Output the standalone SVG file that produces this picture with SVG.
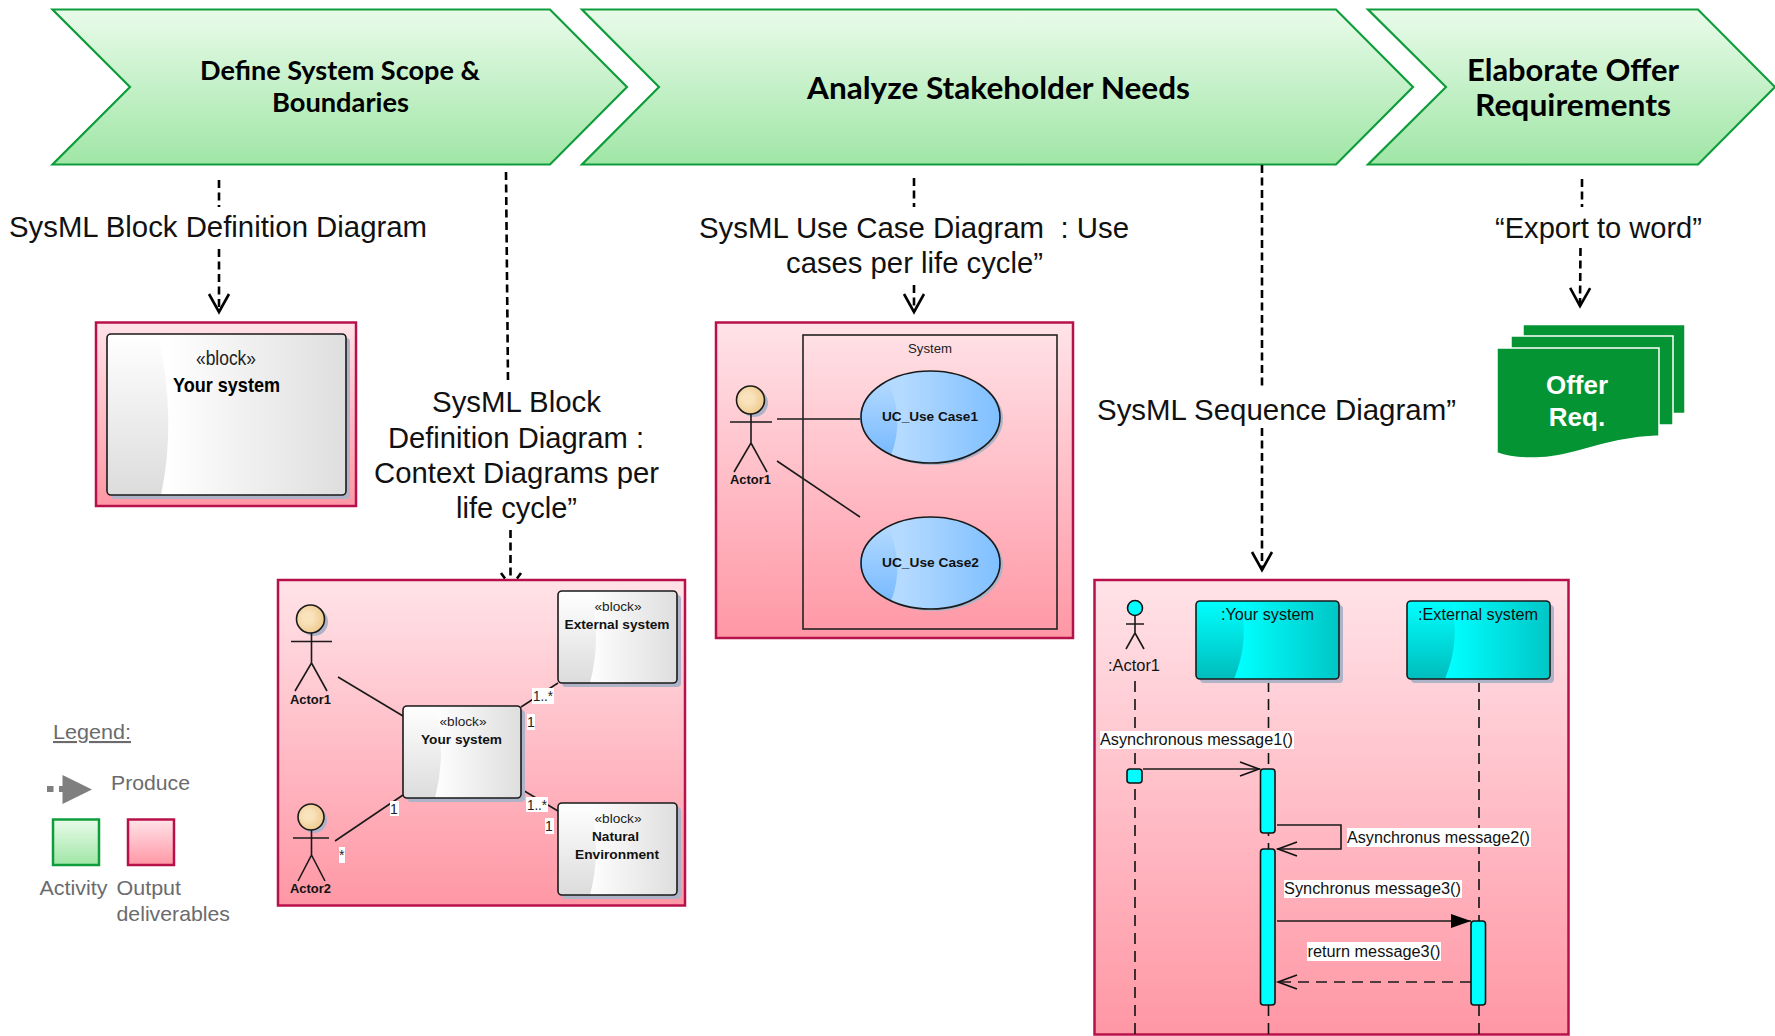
<svg xmlns="http://www.w3.org/2000/svg" width="1775" height="1036" viewBox="0 0 1775 1036">
<style>
text{font-family:"Liberation Sans",Arial,sans-serif;fill:#000}
.chev{fill:url(#gGreen);stroke:#0f9d3c;stroke-width:2.2}
.ct{font-family:Lato,"Open Sans",sans-serif;font-weight:700;fill:#000}
.panel{fill:url(#gPink);stroke:#b8104a;stroke-width:2.5}
.cap{font-size:30px;fill:#111}
.shadow{fill:#aeb3c8}
.bR{fill:url(#gGrayH)}.bL{fill:url(#gGrayV)}
.cR{fill:url(#gCyanH)}.cL{fill:url(#gCyanV)}
.eR{fill:url(#gBlueH)}.eL{fill:url(#gBlueV)}
.out{fill:none;stroke:#1a1a1a;stroke-width:1.6}
.st{font-size:13.5px;fill:#222}
.bt{font-size:13.5px;font-weight:700;fill:#111}
.sq{font-size:16px;fill:#111}
.lab{fill:#fff}
.num{font-size:14px;fill:#222}
.ln{stroke:#1a1a1a;stroke-width:1.6;fill:none}
.fig{stroke:#1a1a1a;stroke-width:1.6;fill:none}
.head{fill:url(#gHead);stroke:#1a1a1a;stroke-width:1.6}
.dash{stroke:#000;stroke-width:2.6;stroke-dasharray:8 4.5;fill:none}
.life{stroke:#111;stroke-width:1.6;stroke-dasharray:11 7;fill:none}
.act{fill:#00ffff;stroke:#111;stroke-width:1.6}
.leg{font-size:21px;fill:#6b6b6e}
.doc{fill:#059433;stroke:#fff;stroke-width:1.5}
</style>
<defs>
<linearGradient id="gGreen" x1="0" y1="0" x2="0" y2="1"><stop offset="0" stop-color="#e9fbea"/><stop offset="1" stop-color="#a0e6a6"/></linearGradient>
<linearGradient id="gPink" x1="0" y1="0" x2="0" y2="1"><stop offset="0" stop-color="#ffe3e8"/><stop offset="1" stop-color="#ff97a5"/></linearGradient>
<linearGradient id="gGrayH" x1="0" y1="0" x2="1" y2="0"><stop offset="0.25" stop-color="#fff"/><stop offset="1" stop-color="#dedede"/></linearGradient>
<linearGradient id="gGrayV" x1="0" y1="0" x2="0" y2="1"><stop offset="0" stop-color="#fff"/><stop offset="1" stop-color="#dcdcdc"/></linearGradient>
<linearGradient id="gCyanH" x1="0" y1="0" x2="1" y2="0"><stop offset="0.3" stop-color="#00ffff"/><stop offset="1" stop-color="#00c6c6"/></linearGradient>
<linearGradient id="gCyanV" x1="0" y1="0" x2="0" y2="1"><stop offset="0" stop-color="#00ffff"/><stop offset="1" stop-color="#00bcbc"/></linearGradient>
<linearGradient id="gBlueH" x1="0" y1="0" x2="1" y2="0"><stop offset="0.3" stop-color="#b4daff"/><stop offset="1" stop-color="#7fbfff"/></linearGradient>
<linearGradient id="gBlueV" x1="0" y1="0" x2="0" y2="1"><stop offset="0" stop-color="#b4daff"/><stop offset="1" stop-color="#78baff"/></linearGradient>
<radialGradient id="gHead" cx="0.4" cy="0.45" r="0.6"><stop offset="0.3" stop-color="#f9e3bd"/><stop offset="1" stop-color="#eec98c"/></radialGradient>
<marker id="mOpen" markerUnits="userSpaceOnUse" markerWidth="26" markerHeight="26" refX="22" refY="13" orient="auto"><path d="M4,3 L22,13 L4,23" fill="none" stroke="#000" stroke-width="2.6"/></marker>
<marker id="sOpen" markerUnits="userSpaceOnUse" markerWidth="24" markerHeight="20" refX="22" refY="10" orient="auto"><path d="M2,3 L21,10 L2,17" fill="none" stroke="#111" stroke-width="1.6"/></marker>
<marker id="sFill" markerUnits="userSpaceOnUse" markerWidth="24" markerHeight="20" refX="21" refY="10" orient="auto"><path d="M1,3 L21,10 L1,17 Z" fill="#000"/></marker>
</defs>
<rect width="1775" height="1036" fill="#fff"/>

<g id="activity-scope">
<path class="chev" d="M52.500,9.500 H550 L627,87 L550,164.500 H52.500 L130,87 Z"/>
<text class="ct" font-size="27" x="200" y="80" textLength="280" lengthAdjust="spacingAndGlyphs">Define System Scope &amp;</text>
<text class="ct" font-size="27" x="272" y="112" textLength="137" lengthAdjust="spacingAndGlyphs">Boundaries</text>
</g>
<g id="activity-needs">
<path class="chev" d="M582,9.500 H1336 L1413,87 L1336,164.500 H582 L659,87 Z"/>
<text class="ct" font-size="30" x="807" y="99" textLength="383" lengthAdjust="spacingAndGlyphs">Analyze Stakeholder Needs</text>
</g>
<g id="activity-offer">
<path class="chev" d="M1368,9.500 H1698 L1775,87 L1698,164.500 H1368 L1446,87 Z"/>
<text class="ct" font-size="30" x="1467" y="81" textLength="212" lengthAdjust="spacingAndGlyphs">Elaborate Offer</text>
<text class="ct" font-size="30" x="1475" y="116" textLength="196" lengthAdjust="spacingAndGlyphs">Requirements</text>
</g>

<rect id="panel-block" class="panel" x="96" y="322.500" width="260" height="183.500"/>
<rect id="panel-context" class="panel" x="278" y="580" width="407" height="325.500"/>
<rect id="panel-usecase" class="panel" x="716" y="322.500" width="357" height="315.500"/>
<rect id="panel-sequence" class="panel" x="1094.500" y="580" width="474" height="454.500"/>

<g id="connectors">
<path class="dash" d="M219,180 V207"/>
<path class="dash" d="M219,249 V312" marker-end="url(#mOpen)"/>
<path class="dash" d="M506,172 L508,381"/>
<path class="dash" d="M510.500,530 V578"/>
<path d="M501,573 L505,578.500 M521,573 L517,578.500" stroke="#000" stroke-width="2.600" fill="none"/>
<path class="dash" d="M914,178 V207"/>
<path class="dash" d="M914,285 V312" marker-end="url(#mOpen)"/>
<path class="dash" d="M1262,165 V386"/>
<path class="dash" d="M1262,428 V570" marker-end="url(#mOpen)"/>
<path class="dash" d="M1582,179 V207"/>
<path class="dash" d="M1580.500,248 L1580,306" marker-end="url(#mOpen)"/>
<path class="ln" d="M338,677 L403,716"/>
<path class="ln" d="M335,841 L403,795"/>
<path class="ln" d="M521,707 L558,683"/>
<path class="ln" d="M521,789 L558,811"/>
<path class="ln" d="M777,419 H860"/>
<path class="ln" d="M777,461 L860,517"/>
<path class="life" d="M1135,681 V1035"/>
<path class="life" d="M1268.500,681 V1035"/>
<path class="life" d="M1479,681 V1035"/>
<path class="ln" d="M1143,769 H1260" marker-end="url(#sOpen)"/>
<path class="ln" d="M1277,825 H1341 V849 H1277" marker-end="url(#sOpen)"/>
<path class="ln" d="M1277,921 H1471" marker-end="url(#sFill)"/>
<path class="ln" d="M1471,982 H1277" stroke-dasharray="11 7" marker-end="url(#sOpen)"/>
</g>

<text class="cap" x="9" y="237" textLength="418" lengthAdjust="spacingAndGlyphs">SysML Block Definition Diagram</text>
<text class="cap" x="432" y="412" textLength="169" lengthAdjust="spacingAndGlyphs">SysML Block</text>
<text class="cap" x="388" y="448" textLength="256" lengthAdjust="spacingAndGlyphs">Definition Diagram :</text>
<text class="cap" x="374" y="483" textLength="285" lengthAdjust="spacingAndGlyphs">Context Diagrams per</text>
<text class="cap" x="456" y="518" textLength="121" lengthAdjust="spacingAndGlyphs">life cycle”</text>
<text class="cap" x="699" y="238" textLength="430" lengthAdjust="spacingAndGlyphs" xml:space="preserve">SysML Use Case Diagram  : Use</text>
<text class="cap" x="786" y="273" textLength="257" lengthAdjust="spacingAndGlyphs">cases per life cycle”</text>
<text class="cap" x="1097" y="420" textLength="359" lengthAdjust="spacingAndGlyphs">SysML Sequence Diagram”</text>
<text class="cap" x="1495" y="238" textLength="207" lengthAdjust="spacingAndGlyphs">“Export to word”</text>

<g id="block-main">
<rect class="shadow" x="111" y="338" width="239" height="161" rx="4"/>
<rect class="bR" x="107" y="334" width="239" height="161" rx="4"/>
<path class="bL" d="M111,334 H158 Q177,420 161,495 H111 Q107,495 107,491 V338 Q107,334 111,334 Z"/>
<rect class="out" x="107" y="334" width="239" height="161" rx="4"/>
<text x="196" y="365" font-size="21" textLength="60" lengthAdjust="spacingAndGlyphs" style="fill:#222">«block»</text>
<text x="173" y="392" font-size="21" font-weight="700" textLength="107" lengthAdjust="spacingAndGlyphs">Your system</text>
</g>

<g id="ctx-actor1">
<circle cx="314" cy="622" r="14" class="shadow"/>
<circle cx="310.500" cy="619" r="14" class="head"/>
<path class="fig" d="M291,641.500 H332 M311.500,633 V663 L295,691 M311.500,663 L327,691"/>
<text class="bt" x="290" y="704" textLength="41" lengthAdjust="spacingAndGlyphs">Actor1</text>
</g>
<g id="ctx-actor2">
<circle cx="314" cy="820" r="13" class="shadow"/>
<circle cx="311" cy="817" r="13" class="head"/>
<path class="fig" d="M293,838 H329 M311.500,830 V855 L298,881 M311.500,855 L325,881"/>
<text class="bt" x="290" y="893" textLength="41" lengthAdjust="spacingAndGlyphs">Actor2</text>
</g>
<g id="ctx-your-system">
<rect class="shadow" x="407" y="710" width="118" height="92" rx="4"/>
<rect class="bR" x="403" y="706" width="118" height="92" rx="4"/>
<path class="bL" d="M407,706 H435 Q447,752 435,798 H407 Q403,798 403,794 V710 Q403,706 407,706 Z"/>
<rect class="out" x="403" y="706" width="118" height="92" rx="4"/>
<text class="st" x="439.500" y="726" textLength="47" lengthAdjust="spacingAndGlyphs">«block»</text>
<text class="bt" x="421" y="744" textLength="81" lengthAdjust="spacingAndGlyphs">Your system</text>
</g>
<g id="ctx-external">
<rect class="shadow" x="562" y="595" width="119" height="92" rx="4"/>
<rect class="bR" x="558" y="591" width="119" height="92" rx="4"/>
<path class="bL" d="M562,591 H590 Q602,637 590,683 H562 Q558,683 558,679 V595 Q558,591 562,591 Z"/>
<rect class="out" x="558" y="591" width="119" height="92" rx="4"/>
<text class="st" x="594.500" y="611" textLength="47" lengthAdjust="spacingAndGlyphs">«block»</text>
<text class="bt" x="564.500" y="629" textLength="105" lengthAdjust="spacingAndGlyphs">External system</text>
</g>
<g id="ctx-natural">
<rect class="shadow" x="562" y="807" width="119" height="92" rx="4"/>
<rect class="bR" x="558" y="803" width="119" height="92" rx="4"/>
<path class="bL" d="M562,803 H590 Q602,849 590,895 H562 Q558,895 558,891 V807 Q558,803 562,803 Z"/>
<rect class="out" x="558" y="803" width="119" height="92" rx="4"/>
<text class="st" x="594.500" y="823" textLength="47" lengthAdjust="spacingAndGlyphs">«block»</text>
<text class="bt" x="592" y="841" textLength="47" lengthAdjust="spacingAndGlyphs">Natural</text>
<text class="bt" x="575" y="859" textLength="84" lengthAdjust="spacingAndGlyphs">Environment</text>
</g>
<g id="ctx-labels">
<rect class="lab" x="532" y="688" width="22" height="16"/><text class="num" x="533" y="701" textLength="20" lengthAdjust="spacingAndGlyphs">1..*</text>
<rect class="lab" x="527" y="714" width="8" height="16"/><text class="num" x="527" y="727">1</text>
<rect class="lab" x="390" y="801" width="9" height="15"/><text class="num" x="390" y="814">1</text>
<rect class="lab" x="339" y="847" width="6" height="16"/><text class="num" x="339" y="860">*</text>
<rect class="lab" x="526" y="797" width="22" height="15"/><text class="num" x="527" y="810" textLength="20" lengthAdjust="spacingAndGlyphs">1..*</text>
<rect class="lab" x="545" y="818" width="9" height="16"/><text class="num" x="545" y="831">1</text>
</g>

<g id="uc-system">
<rect x="803" y="335" width="254" height="294" fill="none" stroke="#222" stroke-width="1.600"/>
<text class="st" x="908" y="353" textLength="44" lengthAdjust="spacingAndGlyphs">System</text>
</g>
<g id="uc-actor">
<circle cx="754" cy="403" r="14" class="shadow"/>
<circle cx="750.500" cy="400" r="14" class="head"/>
<path class="fig" d="M730,422 H772 M751,414 V443 L734,472 M751,443 L767,472"/>
<text class="bt" x="730" y="484" textLength="41" lengthAdjust="spacingAndGlyphs">Actor1</text>
</g>
<g id="uc-case1">
<ellipse class="shadow" cx="933" cy="419" rx="70" ry="46"/>
<ellipse class="eR" cx="930.500" cy="417" rx="69.500" ry="46"/>
<path class="eL" d="M888,380 Q905,420 891,455 A70,46 0 0 1 888,380 Z"/>
<ellipse class="out" cx="930.500" cy="417" rx="69.500" ry="46"/>
<text class="bt" x="882" y="421" textLength="96" lengthAdjust="spacingAndGlyphs">UC_Use Case1</text>
</g>
<g id="uc-case2">
<ellipse class="shadow" cx="933" cy="565" rx="70" ry="46"/>
<ellipse class="eR" cx="930.500" cy="563" rx="69.500" ry="46"/>
<path class="eL" d="M888,526 Q905,566 891,601 A70,46 0 0 1 888,526 Z"/>
<ellipse class="out" cx="930.500" cy="563" rx="69.500" ry="46"/>
<text class="bt" x="882" y="567" textLength="97" lengthAdjust="spacingAndGlyphs">UC_Use Case2</text>
</g>

<g id="seq-actor">
<circle cx="1135" cy="608" r="7.500" fill="#00ffff" stroke="#111" stroke-width="1.600"/>
<path class="fig" d="M1126,624 H1144 M1135,616 V633 L1126,649 M1135,633 L1144,649"/>
<text class="sq" x="1108" y="671" textLength="52" lengthAdjust="spacingAndGlyphs">:Actor1</text>
</g>
<g id="seq-your-system">
<rect class="shadow" x="1200" y="605" width="143" height="78" rx="4"/>
<rect class="cR" x="1196" y="601" width="143" height="78" rx="4"/>
<path class="cL" d="M1200,601 H1240 Q1250,640 1234,679 H1200 Q1196,679 1196,675 V605 Q1196,601 1200,601 Z"/>
<rect class="out" x="1196" y="601" width="143" height="78" rx="4"/>
<text class="sq" x="1221" y="620" textLength="93" lengthAdjust="spacingAndGlyphs">:Your system</text>
</g>
<g id="seq-external">
<rect class="shadow" x="1411" y="605" width="143" height="78" rx="4"/>
<rect class="cR" x="1407" y="601" width="143" height="78" rx="4"/>
<path class="cL" d="M1411,601 H1451 Q1461,640 1445,679 H1411 Q1407,679 1407,675 V605 Q1407,601 1411,601 Z"/>
<rect class="out" x="1407" y="601" width="143" height="78" rx="4"/>
<text class="sq" x="1418" y="620" textLength="120" lengthAdjust="spacingAndGlyphs">:External system</text>
</g>
<g id="seq-activations">
<rect class="act" x="1127" y="769" width="15" height="14" rx="3"/>
<rect class="act" x="1260.500" y="769" width="14.500" height="64" rx="3"/>
<rect class="act" x="1260.500" y="849" width="14.500" height="156" rx="3"/>
<rect class="act" x="1471" y="921" width="14.500" height="84" rx="3"/>
</g>
<g id="seq-labels">
<rect class="lab" x="1100" y="731" width="194" height="18"/><text class="sq" x="1100" y="745" textLength="193" lengthAdjust="spacingAndGlyphs">Asynchronous message1()</text>
<rect class="lab" x="1347" y="828" width="184" height="19"/><text class="sq" x="1347" y="843" textLength="183" lengthAdjust="spacingAndGlyphs">Asynchronus message2()</text>
<rect class="lab" x="1284" y="880" width="178" height="18"/><text class="sq" x="1284" y="894" textLength="177" lengthAdjust="spacingAndGlyphs">Synchronus message3()</text>
<rect class="lab" x="1307" y="942" width="134" height="19"/><text class="sq" x="1307.500" y="957" textLength="133" lengthAdjust="spacingAndGlyphs">return message3()</text>
</g>

<g id="offer-req">
<rect class="doc" x="1523" y="324.500" width="162" height="89"/>
<rect class="doc" x="1511" y="336" width="162" height="89"/>
<path class="doc" d="M1497,348 H1659 V436 C1600,438 1570,460 1530,458 C1515,458 1505,456 1497,453 Z"/>
<text x="1577" y="394" font-size="26" font-weight="700" text-anchor="middle" style="fill:#fff">Offer</text>
<text x="1577" y="426" font-size="26" font-weight="700" text-anchor="middle" style="fill:#fff">Req.</text>
</g>

<g id="legend">
<text class="leg" x="53" y="739" text-decoration="underline" textLength="78" lengthAdjust="spacingAndGlyphs">Legend:</text>
<rect x="47" y="786" width="6.500" height="6" fill="#7f7f7f"/>
<rect x="59" y="786" width="5" height="6" fill="#7f7f7f"/>
<path d="M62.500,775 L92,789.500 L62.500,804 Z" fill="#7f7f7f"/>
<text class="leg" x="111" y="790" textLength="79" lengthAdjust="spacingAndGlyphs">Produce</text>
<rect x="53" y="819.500" width="46" height="45.500" fill="url(#gGreen)" stroke="#0f9d3c" stroke-width="2.500"/>
<rect x="128" y="819.500" width="46" height="45.500" fill="url(#gPink)" stroke="#b8104a" stroke-width="2.500"/>
<text class="leg" x="39.500" y="895" textLength="68" lengthAdjust="spacingAndGlyphs">Activity</text>
<text class="leg" x="116.500" y="895" textLength="64.500" lengthAdjust="spacingAndGlyphs">Output</text>
<text class="leg" x="116.500" y="921" textLength="113.500" lengthAdjust="spacingAndGlyphs">deliverables</text>
</g>
</svg>
